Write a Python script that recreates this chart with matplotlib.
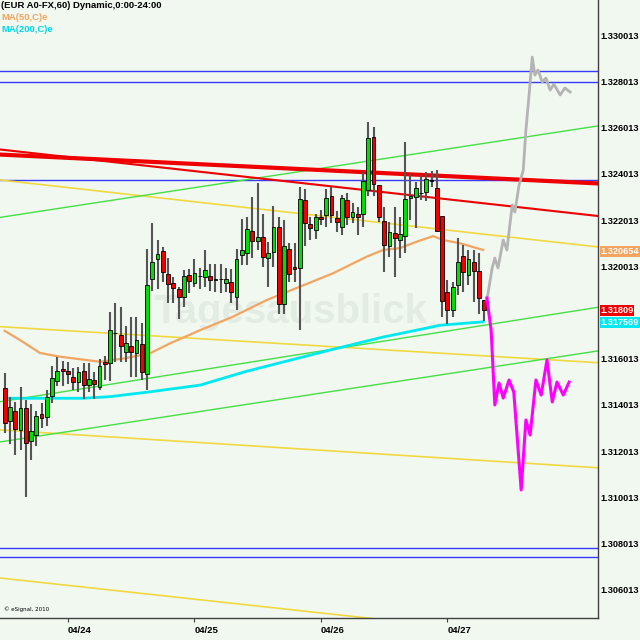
import matplotlib
matplotlib.use('Agg')
import matplotlib.pyplot as plt
import numpy as np

# hourly EUR/USD candles, bar 0 = 04/23 12:00
opens = [
    1.31475, 1.31330, 1.31377, 1.31293, 1.31390, 1.31243, 1.31270, 1.31364, 1.31348, 1.31438,
    1.31503, 1.31555, 1.31549, 1.31521, 1.31499, 1.31546, 1.31488, 1.31510, 1.31479, 1.31587,
    1.31581, 1.31711, 1.31704, 1.31632, 1.31656, 1.31625, 1.31665, 1.31533, 1.31945, 1.32032,
    1.32068, 1.31967, 1.31931, 1.31905, 1.31870, 1.31964, 1.31928, 1.31958, 1.31954, 1.31961,
    1.31944, 1.31946, 1.31928, 1.31934, 1.31867, 1.32049, 1.32060, 1.32155, 1.32112, 1.32129,
    1.32036, 1.32062, 1.32170, 1.31836, 1.32078, 1.32000, 1.31992, 1.32288, 1.32184, 1.32158,
    1.32213, 1.32223, 1.32307, 1.32209, 1.32170, 1.32288, 1.32216, 1.32226, 1.32228, 1.32331,
    1.32562, 1.32353, 1.32197, 1.32091, 1.32147, 1.32115, 1.32132, 1.32297, 1.32300, 1.32318,
    1.32321, 1.32372, 1.32341, 1.32219, 1.31891, 1.31812, 1.31920, 1.32047, 1.31964, 1.32021,
    1.31981, 1.31855]
closes = [
    1.31321, 1.31392, 1.31296, 1.31387, 1.31238, 1.31287, 1.31354, 1.31346, 1.31435, 1.31516,
    1.31548, 1.31546, 1.31533, 1.31499, 1.31542, 1.31486, 1.31512, 1.31490, 1.31569, 1.31577,
    1.31726, 1.31711, 1.31656, 1.31668, 1.31632, 1.31682, 1.31545, 1.31919, 1.32019, 1.32056,
    1.31975, 1.31925, 1.31909, 1.31867, 1.31961, 1.31939, 1.31971, 1.31958, 1.31987, 1.31943,
    1.31948, 1.31946, 1.31947, 1.31890, 1.32032, 1.32071, 1.32163, 1.32112, 1.32129, 1.32043,
    1.32060, 1.32170, 1.31836, 1.32091, 1.31969, 1.31988, 1.32291, 1.32187, 1.32166, 1.32213,
    1.32206, 1.32295, 1.32222, 1.32193, 1.32295, 1.32213, 1.32236, 1.32213, 1.32372, 1.32557,
    1.32357, 1.32213, 1.32093, 1.32151, 1.32122, 1.32139, 1.32291, 1.32307, 1.32341, 1.32318,
    1.32378, 1.32372, 1.32155, 1.31852, 1.31812, 1.31910, 1.32021, 1.31975, 1.32032, 1.31982,
    1.31863, 1.31812]
highs = [
    1.31538, 1.31434, 1.31415, 1.31477, 1.31422, 1.31405, 1.31374, 1.31408, 1.31465, 1.31569,
    1.31610, 1.31591, 1.31585, 1.31560, 1.31566, 1.31581, 1.31581, 1.31542, 1.31601, 1.31613,
    1.31802, 1.31843, 1.31826, 1.31741, 1.31783, 1.31783, 1.31755, 1.32076, 1.32187, 1.32114,
    1.32086, 1.32039, 1.31956, 1.31913, 1.31985, 1.31988, 1.32032, 1.31992, 1.32072, 1.32012,
    1.32013, 1.32012, 1.31992, 1.31990, 1.32076, 1.32205, 1.32216, 1.32302, 1.32363, 1.32228,
    1.32108, 1.32263, 1.32213, 1.32202, 1.32101, 1.32101, 1.32346, 1.32334, 1.32216, 1.32228,
    1.32245, 1.32334, 1.32346, 1.32242, 1.32309, 1.32317, 1.32274, 1.32259, 1.32409, 1.32627,
    1.32606, 1.32353, 1.32259, 1.32194, 1.32259, 1.32213, 1.32541, 1.32401, 1.32367, 1.32396,
    1.32411, 1.32415, 1.32418, 1.32219, 1.31940, 1.31934, 1.32122, 1.32093, 1.32072, 1.32072,
    1.32058, 1.31855]
lows = [
    1.31278, 1.31234, 1.31184, 1.31206, 1.31003, 1.31163, 1.31224, 1.31302, 1.31312, 1.31408,
    1.31483, 1.31484, 1.31490, 1.31465, 1.31458, 1.31425, 1.31458, 1.31425, 1.31465, 1.31509,
    1.31506, 1.31588, 1.31588, 1.31588, 1.31523, 1.31523, 1.31509, 1.31465, 1.31894, 1.31901,
    1.31934, 1.31843, 1.31843, 1.31773, 1.31827, 1.31887, 1.31913, 1.31901, 1.31913, 1.31894,
    1.31890, 1.31885, 1.31890, 1.31843, 1.31813, 1.32008, 1.32006, 1.32036, 1.32072, 1.32000,
    1.31913, 1.32000, 1.31796, 1.31796, 1.31934, 1.31934, 1.31726, 1.32089, 1.32115, 1.32118,
    1.32180, 1.32173, 1.32187, 1.32151, 1.32138, 1.32180, 1.32187, 1.32138, 1.32173, 1.32305,
    1.32305, 1.32194, 1.31975, 1.32043, 1.31956, 1.32036, 1.32058, 1.32202, 1.32166, 1.32288,
    1.32285, 1.32343, 1.32155, 1.31783, 1.31753, 1.31783, 1.31877, 1.31891, 1.31920, 1.31848,
    1.31796, 1.31766]

# moving averages (read at bar positions)
ma50_x = [0, 2.9, 6.7, 10.5, 18.1, 22.8, 27.6, 31.4, 37.1, 43.3, 49.7, 56.0, 62.3, 68.7,
          71.8, 75.0, 78.2, 81.3, 83.2, 86.4, 90.8]
ma50_y = [1.31722, 1.31682, 1.31626, 1.31610, 1.31588, 1.31603, 1.31625, 1.31668, 1.31725,
          1.31783, 1.31855, 1.31913, 1.31971, 1.32043, 1.32072, 1.32080, 1.32108, 1.32132,
          1.32115, 1.32101, 1.32072]
ma200_x = [0, 14.9, 20.0, 27.6, 37.1, 45.6, 62.3, 71.8, 78.2, 82.6, 90.8]
ma200_y = [1.31430, 1.31430, 1.31437, 1.31458, 1.31487, 1.31545, 1.31642, 1.31695, 1.31725,
           1.31746, 1.31761]

# forecast paths
grey_x = [91.5, 92.5, 93.0, 93.6, 94.6, 95.3, 96.3, 96.8, 97.6, 98.4, 98.9, 99.5, 100.1,
          100.6, 101.2, 102.0, 102.7, 103.5, 104.2, 105.4, 106.3, 107.3]
grey_y = [1.31855, 1.31994, 1.32037, 1.31994, 1.32115, 1.32072, 1.32267, 1.32236, 1.32353,
          1.32418, 1.32591, 1.32743, 1.32907, 1.32829, 1.32851, 1.32799, 1.32816, 1.32764,
          1.32790, 1.32743, 1.32773, 1.32756]
pink_x = [91.5, 92.3, 93.0, 93.8, 94.6, 95.7, 96.6, 98.0, 98.9, 99.7, 100.8, 101.8, 102.9,
          103.9, 104.8, 106.0, 107.1]
pink_y = [1.31864, 1.31725, 1.31401, 1.31496, 1.31431, 1.31509, 1.31457, 1.31033, 1.31336,
          1.31271, 1.31509, 1.31444, 1.31596, 1.31414, 1.31500, 1.31444, 1.31500]

# support / resistance
blue_levels = [1.32848, 1.32798, 1.32373, 1.30780, 1.30741]
trend_x = [-0.89, 112.58]
red_thick = [1.32485, 1.32360]
red_thin = [1.32507, 1.32219]
green_lines = [[1.32213, 1.32609], [1.31415, 1.31824], [1.31241, 1.31635]]
yellow_lines = [[1.32375, 1.32085], [1.31740, 1.31584], [1.31293, 1.31129], [1.30652, 1.30370]]

# price axis labels (1.318013 is hidden behind the last-value boxes)
price_ticks = [1.306013, 1.308013, 1.310013, 1.312013, 1.314013, 1.316013,
               1.320013, 1.322013, 1.324013, 1.326013, 1.328013, 1.330013]
day_bars = [12, 36, 60, 84]
day_labels = ['04/24', '04/25', '04/26', '04/27']

BG = '#f0f8f0'
FONT = ['Liberation Sans', 'DejaVu Sans']

fig = plt.figure(figsize=(6.4, 6.4), dpi=100, facecolor=BG)
ax = fig.add_axes([0, 22 / 640, 598 / 640, 618 / 640])
ax.set_facecolor(BG)
ax.set_xlim(-0.89, 112.58)
ax.set_ylim(1.304788, 1.331541)

# watermark
ax.text(0.257, 0.477, 'Tagesausblick', transform=ax.transAxes, fontsize=29,
        fontweight='bold', family=FONT, color='#e3ece3', zorder=0)
ax.text(0.715, 0.468, '.de', transform=ax.transAxes, fontsize=7,
        fontweight='bold', family=FONT, color='#e3ece3', zorder=0)

for lv in blue_levels:
    ax.axhline(lv, color='#3a3aff', lw=1, zorder=2)
for yl in yellow_lines:
    ax.plot(trend_x, yl, color='#f0d840', lw=1.2, zorder=2)
for gl in green_lines:
    ax.plot(trend_x, gl, color='#44e044', lw=1, zorder=2)
ax.plot(trend_x, red_thick, color='#ee0000', lw=3, zorder=2)
ax.plot(trend_x, red_thin, color='#ee0000', lw=1.5, zorder=2)

ax.plot(ma50_x, ma50_y, color='#f4a460', lw=1.6, zorder=3)
ax.plot(ma200_x, ma200_y, color='#00e8f0', lw=2, zorder=3)

# candles
o = np.array(opens)
c = np.array(closes)
h = np.array(highs)
l = np.array(lows)
idx = np.arange(len(o))
ax.vlines(idx, l, h, color='#555555', lw=1.5, zorder=4)
body_bot = np.minimum(o, c)
body_h = np.maximum(np.abs(c - o), 0.000015)
cols = np.where(c > o, '#00dd00', np.where(c < o, '#ee0000', '#000000'))
ax.bar(idx, body_h, bottom=body_bot, width=0.72, color=cols, edgecolor='black',
       lw=0.6, zorder=5)

ax.plot(grey_x, grey_y, color='#b4b4b4', lw=2, zorder=6)
ax.plot(pink_x, pink_y, color='#ff00ff', lw=2.2, zorder=6)

# axes styling
for s in ['left', 'top']:
    ax.spines[s].set_visible(False)
for s in ['right', 'bottom']:
    ax.spines[s].set_color('#404040')
    ax.spines[s].set_linewidth(1)

ax.yaxis.tick_right()
ax.set_yticks(price_ticks)
ax.set_yticklabels(['%.6f' % v for v in price_ticks], family=FONT, fontweight='bold',
                   fontsize=6.6)
ax.tick_params(axis='y', length=0, pad=1.5)

ax.set_xticks(day_bars)
ax.set_xticklabels(day_labels, family=FONT, fontweight='bold', fontsize=6.8, ha='left')
ax.tick_params(axis='x', length=3, pad=3, color='#404040')

# last-value boxes
yx = ax.get_yaxis_transform()
for val, txt, col in [(1.32065, '1.320654', '#f4a460'), (1.31809, '1.31809', '#ee0000'),
                      (1.31757, '1.317569', '#00e8f0')]:
    ax.text(1.004, val, txt, transform=yx, ha='left', va='center', color='white',
            family=FONT, fontweight='bold', fontsize=6.6, zorder=10, clip_on=False,
            bbox=dict(facecolor=col, edgecolor='none', pad=0.5))

# header
fig.text(1 / 640, 1 - 6 / 640, '(EUR A0-FX,60) Dynamic,0:00-24:00', va='center', ha='left',
         family=FONT, fontweight='bold', fontsize=6.8, color='black')
fig.text(1 / 640, 1 - 18 / 640, 'MA(50,C)e', va='center', ha='left',
         family=FONT, fontweight='bold', fontsize=6.8, color='#f4a460')
fig.text(1 / 640, 1 - 30 / 640, 'MA(200,C)e', va='center', ha='left',
         family=FONT, fontweight='bold', fontsize=6.8, color='#00d8e8')
ax.text(0.006, 0.01, '\u00a9 eSignal, 2010', transform=ax.transAxes, fontsize=4,
        color='black', va='bottom')

fig.savefig('out.png', dpi=100, facecolor=BG)
